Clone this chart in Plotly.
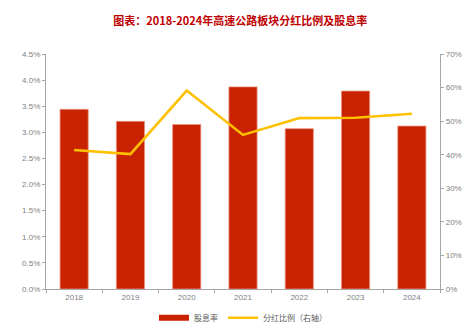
import plotly.graph_objects as go

years = ["2018", "2019", "2020", "2021", "2022", "2023", "2024"]
dividend_yield = [0.0344, 0.0321, 0.0315, 0.0387, 0.0307, 0.0379, 0.0312]
payout_ratio = [0.414, 0.402, 0.591, 0.459, 0.509, 0.510, 0.522]

left_ticks = [0, 0.005, 0.01, 0.015, 0.02, 0.025, 0.03, 0.035, 0.04, 0.045]
right_ticks = [0, 0.1, 0.2, 0.3, 0.4, 0.5, 0.6, 0.7]

bar_color = "#C82200"
line_color = "#FFC000"
axis_color = "#A6A6A6"
tick_font = dict(family="Liberation Sans, Arial", size=8, color="#808080")
cjk = "Noto Sans CJK SC"

fig = go.Figure()
fig.add_trace(go.Bar(
    x=years, y=dividend_yield, name="股息率", showlegend=False,
    marker=dict(color=bar_color, line=dict(color="#E8907A", width=0.8)),
    width=0.5,
))
fig.add_trace(go.Scatter(
    x=years, y=payout_ratio, name="分红比例（右轴）", yaxis="y2",
    mode="lines", line=dict(color=line_color, width=2.6), showlegend=False,
))
# legend entries: a wide block swatch for the bars, a line swatch for the ratio
fig.add_trace(go.Scatter(
    x=[None], y=[None], name="股息率", mode="lines",
    line=dict(color=bar_color, width=6),
))
fig.add_trace(go.Scatter(
    x=[None], y=[None], name="分红比例（右轴）", mode="lines", yaxis="y2",
    line=dict(color=line_color, width=2.6),
))

fig.update_layout(
    width=471, height=331,
    margin=dict(l=46, r=31, t=54, b=42, autoexpand=False),
    plot_bgcolor="white", paper_bgcolor="white",
    title=dict(
        text="<b>图表：2018-2024年高速公路板块分红比例及股息率</b>",
        font=dict(family=cjk, size=11, color="#C00000"),
        x=0.51, xanchor="center", y=0.935, yanchor="middle",
    ),
    xaxis=dict(
        showline=True, linecolor=axis_color, linewidth=1.2,
        ticks="outside", tickson="boundaries", ticklen=3, tickcolor=axis_color,
        tickfont=tick_font, showgrid=False, range=[-0.5, 6.5],
    ),
    yaxis=dict(
        range=[0, 0.045], tickvals=left_ticks, tickformat=".1%",
        showline=True, linecolor=axis_color, linewidth=1.2,
        ticks="outside", ticklen=3, tickcolor=axis_color,
        tickfont=tick_font, showgrid=False, zeroline=False,
    ),
    yaxis2=dict(
        range=[0, 0.7], tickvals=right_ticks, tickformat=".0%",
        overlaying="y", side="right",
        showline=True, linecolor=axis_color, linewidth=1.2,
        ticks="outside", ticklen=3, tickcolor=axis_color,
        tickfont=tick_font, showgrid=False, zeroline=False,
    ),
    legend=dict(
        orientation="h", x=0.5, xanchor="center",
        yref="container", y=0.04, yanchor="middle",
        font=dict(family=cjk, size=8, color="#595959"),
        traceorder="normal", itemwidth=30,
    ),
)

fig.write_html("out.html")
